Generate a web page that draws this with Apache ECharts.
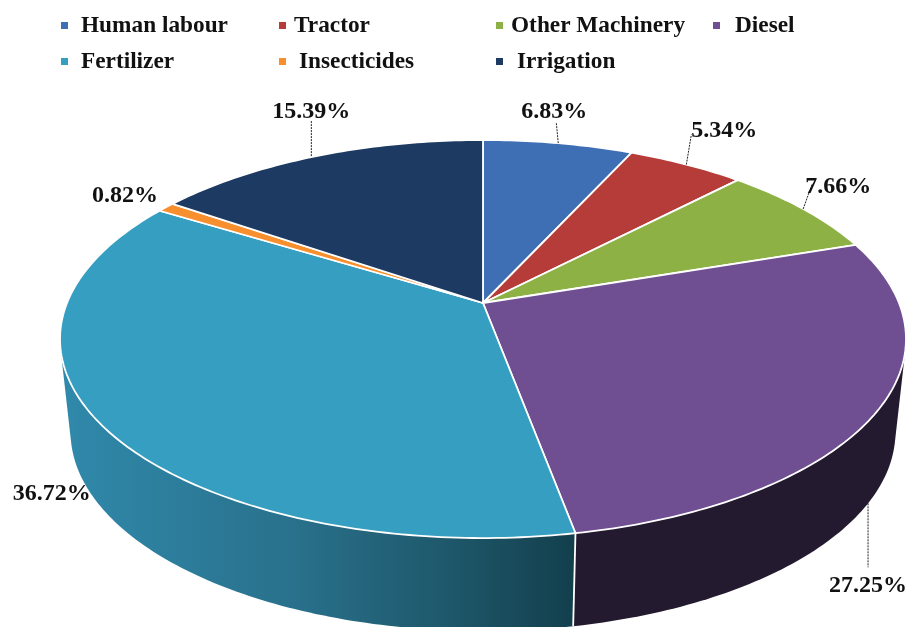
<!DOCTYPE html>
<html><head><meta charset="utf-8">
<style>html,body{margin:0;padding:0;background:#fff}#c{width:907px;height:627px}</style>
<script src="https://cdn.jsdelivr.net/npm/echarts@6/dist/echarts.min.js"></script>
</head><body><div id="c"></div>
<script>
const categories = ['Human labour','Tractor','Other Machinery','Diesel','Fertilizer','Insecticides','Irrigation'];
const shares = [6.83,5.34,7.66,27.25,36.72,0.82,15.39];
const topColors = ['#3e6fb4','#b53c39','#8db145','#6f4f92','#369fc1','#f78f2f','#1d3a63'];

// Perspective of the disc
const view = {cx:483, cy:303, a:416, b:192.5, k:-0.181, depth:93, shrink:0.975};
const total = shares.reduce((s,v)=>s+v,0);
function rim(pct, bottom){
  const t = pct/total*2*Math.PI, u = Math.sin(t), v = -Math.cos(t), w = 1+view.k*v;
  const s = bottom ? view.shrink : 1;
  return [view.cx + s*view.a*u/w, view.cy + view.b*v/w + (bottom ? view.depth : 0)];
}
function arc(p0,p1,bottom){
  const n = Math.max(2,Math.ceil((p1-p0)*4)), pts=[];
  for(let i=0;i<=n;i++) pts.push(rim(p0+(p1-p0)*i/n,bottom));
  return pts;
}
function hull(points){
  const p = points.slice().sort((a,b)=>a[0]-b[0]||a[1]-b[1]);
  const cross=(o,a,b)=>(a[0]-o[0])*(b[1]-o[1])-(a[1]-o[1])*(b[0]-o[0]);
  const build=(list)=>{const h=[];for(const q of list){while(h.length>=2&&cross(h[h.length-2],h[h.length-1],q)<=0)h.pop();h.push(q);}h.pop();return h;};
  return build(p).concat(build(p.slice().reverse()));
}
const grad = (stops)=>({type:'linear',x:60,y:0,x2:575,y2:0,global:true,colorStops:stops});
const wallFills = [
  '#1f3a5e','#5e1f1d','#4a5d24','#241a2f',
  grad([{offset:0,color:'#3089ab'},{offset:.45,color:'#29718c'},{offset:.75,color:'#1e586b'},{offset:1,color:'#133f4c'}]),
  '#8a4f1a','#101f35'
];
// label text centre and leader end, relative to the slice's anchor on the rim
const labelLayout = [
  {dx:-4,dy:-31,lead:[-2,-21]},
  {dx:38,dy:-34,lead:[5,-30]},
  {dx:35,dy:-22,lead:[9,-25]},
  {dx:0,dy:82,lead:[0,64],bottom:true},
  {dx:-49,dy:70},
  {dx:-41,dy:-11},
  {dx:-5,dy:-44,from:[-5,0],lead:[-5,-36]}
];
const legendLayout = [
  {left:61,top:14,gap:13},{left:279,top:14,gap:8},{left:496,top:14,gap:8},{left:713,top:14,gap:15},
  {left:61,top:50,gap:13},{left:279,top:50,gap:13},{left:496,top:50,gap:14}
];
const FONT = '"Liberation Serif","Times New Roman",serif';

function renderSlice(params, api){
  const i = params.seriesIndex, val = api.value(0);
  const p0 = shares.slice(0,i).reduce((s,v)=>s+v,0), p1 = p0+val;
  const top = arc(p0,p1,false), low = arc(p0,p1,true);
  const L = labelLayout[i];
  const anchor = rim((p0+p1)/2, !!L.bottom);
  const kids = [];
  kids.push({type:'polygon',z2:1,shape:{points:hull(top.concat(low))},
      style:{fill:wallFills[i]}});
  if(p0>40&&p0<50) kids.push({type:'line',z2:2,shape:{x1:top[0][0],y1:top[0][1],x2:low[0][0],y2:low[0][1]},
     style:{stroke:'#fff',lineWidth:1.8}});
  kids.push({type:'polygon',z2:3,shape:{points:[[view.cx,view.cy]].concat(top)},
     style:{fill:api.visual('color'),stroke:'#fff',lineWidth:1.8,lineJoin:'round'}});
  kids.push({type:'text',z2:5,style:{text:val.toFixed(2)+'%',x:anchor[0]+L.dx,y:anchor[1]+L.dy,
      textAlign:'center',textVerticalAlign:'middle',fill:'#111',font:'bold 24px '+FONT}});
  if(L.lead){
    const f = L.from||[0,0];
    kids.push({type:'line',z2:4,shape:{x1:anchor[0]+f[0],y1:anchor[1]+f[1],x2:anchor[0]+L.lead[0],y2:anchor[1]+L.lead[1]},
      style:{stroke:'#222',lineWidth:1,lineDash:[2,1]}});
  }
  return {type:'group',children:kids};
}

const chart = echarts.init(document.getElementById('c'),null,{renderer:'canvas'});
chart.setOption({
  animation:false,
  backgroundColor:'#fff',
  tooltip:{show:false},
  legend:categories.map((n,i)=>({
    data:[n],left:legendLayout[i].left,top:legendLayout[i].top,padding:0,
    icon:'rect',itemWidth:7,itemHeight:7,selectedMode:false,
    textStyle:{fontFamily:FONT,fontWeight:'bold',fontSize:23.3,color:'#111',padding:[0,0,0,legendLayout[i].gap-5]}
  })),
  series:categories.map((n,i)=>({
    type:'custom',name:n,coordinateSystem:'none',silent:true,
    itemStyle:{color:topColors[i]},
    renderItem:renderSlice,
    data:[[shares[i]]]
  }))
});
</script></body></html>
